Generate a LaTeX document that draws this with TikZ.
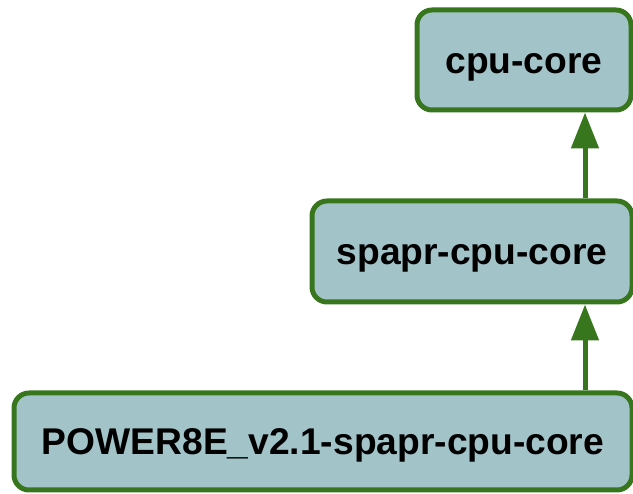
\documentclass[tikz,border=0pt]{standalone}
\usepackage{fontspec}
\setmainfont{Liberation Sans}
\usetikzlibrary{arrows.meta}
\definecolor{boxfill}{HTML}{A2C4C9}
\definecolor{boxline}{HTML}{38761D}
\begin{document}
\begin{tikzpicture}[x=1pt,y=1pt,
  cls/.style={draw=boxline, fill=boxfill, line width=5pt, rounded corners=15pt,
    inner sep=0pt, text height=27pt, text depth=0pt,
    font=\fontsize{37.2}{40}\selectfont\bfseries, text=black},
  inh/.style={draw=boxline, line width=5pt, -{Triangle[length=36pt,width=27pt]}}]
\useasboundingbox (0,0) rectangle (633,-494);
\node[cls, minimum width=214pt, minimum height=100pt] (cpu) at (524,-60) {cpu-core};
\node[cls, minimum width=320pt, minimum height=101pt] (spapr) at (472,-251.5) {spapr-cpu-core};
\node[cls, minimum width=618pt, minimum height=97pt] (power) at (323,-441.5) {POWER8E\_v2.1-spapr-cpu-core};
\coordinate (ax) at (585,0);
\draw[inh] (spapr.north -| ax) -- (cpu.south -| ax);
\draw[inh] (power.north -| ax) -- (spapr.south -| ax);
\end{tikzpicture}
\end{document}
